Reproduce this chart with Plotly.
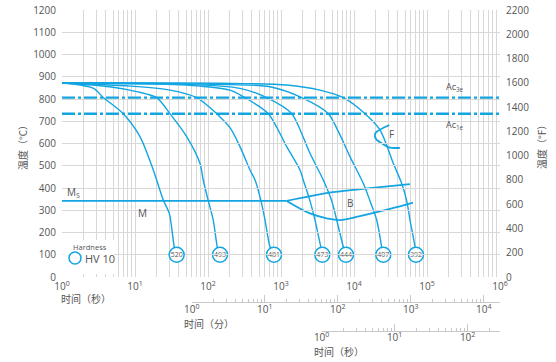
import plotly.graph_objects as go
import math

BLUE = "#12a5e2"
GRID = "#d8d8d8"
TXT = "#555555"
FONT = "Open Sans, Noto Sans, sans-serif"
CJK = "Noto Sans CJK SC"

# ---- data: cooling curves, time (s) / temperature (°C) ----
c520_t = [1, 2.7, 3.7, 6.9, 11.7, 17.8, 24.4, 29.5, 34.5, 37.2]
c520_T = [873, 848, 806, 734, 631, 481, 346, 286, 136, 100]
c493_t = [1, 4.5, 10.5, 19.8, 30.1, 51, 77.6, 86, 101, 118, 134, 146]
c493_T = [872, 855, 833, 806, 734, 631, 511, 436, 342, 256, 136, 100]
c481_t = [1, 8.6, 30.1, 70, 131.5, 200, 274, 376, 441, 532, 604, 706, 802]
c481_T = [872, 858, 840, 806, 734, 671, 586, 481, 436, 342, 256, 136, 100]
c473_t = [1, 16, 78, 200, 321, 670, 1197, 1820, 2018, 2495, 2924, 3500, 3681]
c473_T = [872, 868, 858, 840, 806, 734, 586, 481, 436, 342, 256, 136, 100]
c444_t = [1, 41, 274, 637, 1403, 1879, 2495, 3793, 4955, 5794, 7129, 7762]
c444_T = [872, 867, 848, 806, 734, 652, 556, 436, 342, 256, 136, 100]
c407_t = [1, 78, 706, 1923, 4446, 6324, 8810, 13397, 16558, 20464, 23933, 25177]
c407_T = [872, 867, 855, 806, 734, 643, 541, 421, 342, 256, 136, 100]
c392_t = [1, 146, 1197, 3420, 7129, 14158, 22699, 34514, 44978, 52723, 58479, 68549, 70632]
c392_T = [873, 871, 863, 840, 806, 734, 661, 511, 421, 342, 256, 136, 100]

curves_t = [c520_t, c493_t, c481_t, c473_t, c444_t, c407_t, c392_t]
curves_T = [c520_T, c493_T, c481_T, c473_T, c444_T, c407_T, c392_T]
hardness = [520, 493, 481, 473, 444, 407, 392]

# transformation temperatures
ac3 = 806
ac1 = 734
ms_t = [1, 1197]
ms_T = [342, 342]
b_up_t = [1197, 5152, 16558, 58479]
b_up_T = [342, 381, 399, 417]
b_lo_t = [1197, 2495, 4227, 6427, 12078, 31117, 64269]
b_lo_T = [342, 286, 264, 256, 274, 306, 334]
f_t = [30479, 20464, 19409, 20000, 22699, 29512, 42658]
f_T = [683, 653, 643, 620, 606, 584, 580]

# axis ticks
main_exp = [0, 1, 2, 3, 4, 5, 6]
min_exp = [0, 1, 2, 3, 4]
hour_exp = [0, 1, 2]
yC_ticks = list(range(0, 1300, 100))
yF_ticks = list(range(0, 2400, 200))

fig = go.Figure()

for t, T in zip(curves_t, curves_T):
    fig.add_trace(go.Scatter(x=t, y=T, mode="lines", line=dict(color=BLUE, width=1.4, shape="spline", smoothing=0.8),
                             showlegend=False, hoverinfo="skip"))

x_full = [1, 1e6]
for v in (ac3, ac1):
    fig.add_trace(go.Scatter(x=x_full, y=[v, v], mode="lines",
                             line=dict(color=BLUE, width=2.4, dash="13px,3px,3px,3px"),
                             showlegend=False, hoverinfo="skip"))

fig.add_trace(go.Scatter(x=ms_t, y=ms_T, mode="lines", line=dict(color=BLUE, width=1.8),
                         showlegend=False, hoverinfo="skip"))
for t, T in ((b_up_t, b_up_T), (b_lo_t, b_lo_T), (f_t, f_T)):
    fig.add_trace(go.Scatter(x=t, y=T, mode="lines", line=dict(color=BLUE, width=1.8, shape="spline"),
                             showlegend=False, hoverinfo="skip"))

# hardness circles
fig.add_trace(go.Scatter(x=[t[-1] for t in curves_t], y=[T[-1] for T in curves_T],
                         mode="markers+text", text=[str(h) for h in hardness],
                         textposition="middle center", textfont=dict(size=7, color=TXT, family=FONT),
                         marker=dict(size=15, color="white", line=dict(color=BLUE, width=1.5)),
                         showlegend=False, hoverinfo="skip"))

# dummy traces for extra axes
fig.add_trace(go.Scatter(x=[None], y=[None], xaxis="x2", yaxis="y", showlegend=False, hoverinfo="skip"))
fig.add_trace(go.Scatter(x=[None], y=[None], xaxis="x3", yaxis="y", showlegend=False, hoverinfo="skip"))
fig.add_trace(go.Scatter(x=[None], y=[None], xaxis="x", yaxis="y2", showlegend=False, hoverinfo="skip"))

def minor_vals(n_dec):
    return [k * 10 ** e for e in range(n_dec + 1) for k in range(2, 10)]

W, H = 556, 362
ml, mr, mt, mb = 62, 56, 10, 31
ph = H - mt - mb
pw = W - ml - mr

def py(p):
    return (H - mb - p) / ph

def px(p):
    return (p - ml) / pw

main_bottom = py(277)
min_start = math.log10(60) / 6
hour_start = math.log10(3600) / 6

tickfont = dict(family=FONT, size=10, color=TXT)

fig.update_layout(
    template="none",
    width=W, height=H,
    margin=dict(l=ml, r=mr, t=mt, b=mb, autoexpand=False),
    paper_bgcolor="white", plot_bgcolor="rgba(0,0,0,0)",
    font=dict(family=FONT, color=TXT),
    showlegend=False,
    xaxis=dict(type="log", range=[0, 6], domain=[0, 1], anchor="y", automargin=False,
               tickmode="array", tickvals=[10 ** e for e in main_exp],
               ticktext=["10<sup>%d</sup>" % e for e in main_exp],
               showgrid=True, gridcolor=GRID, gridwidth=1, zeroline=False, showline=False,
               ticks="", ticklabelstandoff=2, tickfont=tickfont,
               minor=dict(tickmode="array", tickvals=minor_vals(5), showgrid=True, gridcolor=GRID,
                          gridwidth=1, ticks="")),
    yaxis=dict(range=[0, 1200], domain=[main_bottom, 1], tickmode="array", tickvals=yC_ticks,
               automargin=False, showgrid=True, gridcolor=GRID, gridwidth=1, zeroline=False,
               showline=False, ticks="", ticklabelstandoff=5, tickfont=tickfont),
    yaxis2=dict(range=[0, 2200], overlaying="y", side="right", tickmode="array", tickvals=yF_ticks,
                automargin=False, showgrid=False, zeroline=False, showline=False, ticks="",
                ticklabelstandoff=5, tickfont=tickfont),
    xaxis2=dict(type="log", range=[0, math.log10(1e6 / 60)], domain=[min_start, 1], anchor="free",
                position=py(302), automargin=False, tickmode="array", tickvals=[10 ** e for e in min_exp],
                ticktext=["10<sup>%d</sup>" % e for e in min_exp], showgrid=False, zeroline=False,
                showline=True, linecolor="#c8c8c8", linewidth=1, ticks="inside", ticklen=7,
                tickcolor="#c8c8c8", tickfont=tickfont, ticklabelstandoff=-2,
                minor=dict(tickmode="array", tickvals=minor_vals(4), ticks="inside", ticklen=3,
                           tickcolor="#c8c8c8", showgrid=False)),
    xaxis3=dict(type="log", range=[0, math.log10(1e6 / 3600)], domain=[hour_start, 1], anchor="free",
                position=py(331), automargin=False, tickmode="array", tickvals=[10 ** e for e in hour_exp],
                ticktext=["10<sup>%d</sup>" % e for e in hour_exp], showgrid=False, zeroline=False,
                showline=True, linecolor="#c8c8c8", linewidth=1, ticks="inside", ticklen=7,
                tickcolor="#c8c8c8", tickfont=tickfont, ticklabelstandoff=-3,
                minor=dict(tickmode="array", tickvals=minor_vals(2), ticks="inside", ticklen=3,
                           tickcolor="#c8c8c8", showgrid=False)),
)

# legend box (Hardness / HV 10)
fig.add_shape(type="rect", xref="paper", yref="paper", x0=px(63), x1=px(114), y0=py(274), y1=py(240),
              fillcolor="white", line=dict(width=0), layer="above")
fig.add_shape(type="circle", xref="paper", yref="paper", x0=px(69), x1=px(81), y0=py(264), y1=py(252),
              fillcolor="white", line=dict(color=BLUE, width=1.5), layer="above")

ann = []
def add_text(text, x, y, size=10, xanchor="center", angle=0, xref="x", yref="y", family=FONT):
    ann.append(dict(text=text, x=x, y=y, xref=xref, yref=yref, showarrow=False, xanchor=xanchor,
                    yanchor="middle", textangle=angle, font=dict(size=size, color=TXT, family=family)))

add_text("M<sub>S</sub>", math.log10(1.42), 379)
add_text("M", math.log10(12.7), 286)
add_text("B", math.log10(8810), 331)
add_text("F", math.log10(32810), 641)
add_text("Ac<sub>3e</sub>", math.log10(242000), 852, size=9)
add_text("Ac<sub>1e</sub>", math.log10(242000), 683, size=9)
add_text("Hardness", px(71), py(247), size=7.5, xanchor="left", xref="paper", yref="paper")
add_text("HV 10", px(83), py(258), size=11, xanchor="left", xref="paper", yref="paper")
add_text("温度（°C）", px(22), py(145), size=10, angle=-90, xref="paper", yref="paper", family=CJK)
add_text("温度（°F）", px(541), py(145), size=10, angle=-90, xref="paper", yref="paper", family=CJK)
add_text("时间（秒）", px(59), py(298), size=10, xanchor="left", xref="paper", yref="paper", family=CJK)
add_text("时间（分）", px(182), py(323), size=10, xanchor="left", xref="paper", yref="paper", family=CJK)
add_text("时间（秒）", px(312), py(352), size=10, xanchor="left", xref="paper", yref="paper", family=CJK)
fig.update_layout(annotations=ann)

fig.write_html("out.html", config={"displayModeBar": False},
               post_script="document.body.style.margin='0';document.body.style.padding='0';document.body.style.overflow='hidden';")
